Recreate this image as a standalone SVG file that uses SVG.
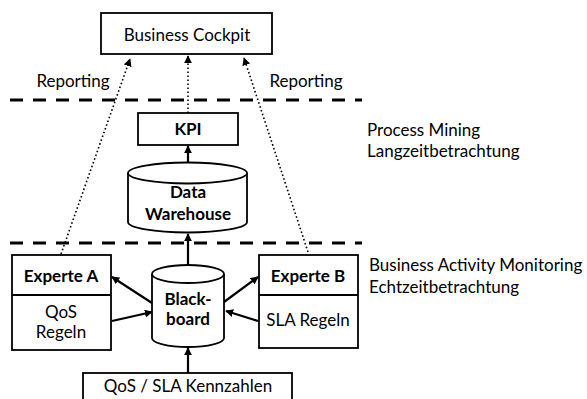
<svg xmlns="http://www.w3.org/2000/svg" width="587" height="399" viewBox="0 0 587 399">
  <style>
    .box { fill: #fff; stroke: #000; stroke-width: 1.8; }
    .t { font-family: Lato, "Open Sans", "Liberation Sans", sans-serif; font-size: 17px; fill: #000; text-anchor: middle; }
    .b { font-weight: bold; }
    .l { text-anchor: start; }
    .sep { stroke: #000; stroke-width: 3; stroke-dasharray: 13 10; fill: none; }
    .dot { stroke: #000; stroke-width: 1.6; stroke-dasharray: 1.6 2.4; fill: none; }
    .arr { stroke: #000; stroke-width: 2.2; fill: none; }
  </style>
  <defs>
    <marker id="ah" viewBox="0 0 10 10" refX="9" refY="5" markerWidth="3.6" markerHeight="3.6" orient="auto" markerUnits="strokeWidth">
      <path d="M0,0 L10,5 L0,10 z" fill="#000"/>
    </marker>
    <marker id="ahs" viewBox="0 0 10 10" refX="9" refY="5" markerWidth="5" markerHeight="5" orient="auto" markerUnits="strokeWidth">
      <path d="M0,0 L10,5 L0,10 z" fill="#000"/>
    </marker>
  </defs>

  <!-- layer separators -->
  <line class="sep" x1="10" y1="100" x2="362" y2="100"/>
  <line class="sep" x1="10" y1="243" x2="362" y2="243"/>

  <!-- layer descriptions -->
  <text class="t l" x="367" y="136">Process Mining</text>
  <text class="t l" x="367" y="157">Langzeitbetrachtung</text>
  <text class="t l" x="369" y="271">Business Activity Monitoring</text>
  <text class="t l" x="369" y="293">Echtzeitbetrachtung</text>
  <text class="t" x="73" y="87">Reporting</text>
  <text class="t" x="306" y="87">Reporting</text>

  <g id="cockpit">
    <rect class="box" x="101" y="13" width="171" height="41"/>
    <text class="t" x="187" y="41">Business Cockpit</text>
  </g>

  <g id="kpi">
    <rect class="box" x="138" y="113" width="100" height="32"/>
    <text class="t b" x="188" y="135">KPI</text>
  </g>

  <g id="warehouse">
    <path class="box" d="M128,173 A59.5,10.5 0 0 1 247,173 L247,222 A59.5,10.5 0 0 1 128,222 Z"/>
    <path class="box" d="M128,173 A59.5,10.5 0 0 0 247,173" fill="none"/>
    <text class="t b" x="188" y="198">Data</text>
    <text class="t b" x="188" y="220">Warehouse</text>
  </g>

  <g id="blackboard">
    <path class="box" d="M152,274 A36,9 0 0 1 224,274 L224,338 A36,9 0 0 1 152,338 Z"/>
    <path class="box" d="M152,274 A36,9 0 0 0 224,274" fill="none"/>
    <text class="t b" x="188" y="305">Black-</text>
    <text class="t b" x="188" y="325">board</text>
  </g>

  <g id="experteA">
    <rect class="box" x="12" y="255" width="99" height="95"/>
    <line class="box" x1="12" y1="295" x2="111" y2="295"/>
    <text class="t b" x="61" y="282">Experte A</text>
    <text class="t" x="61" y="318">QoS</text>
    <text class="t" x="61" y="338">Regeln</text>
  </g>

  <g id="experteB">
    <rect class="box" x="259" y="255" width="99" height="93"/>
    <line class="box" x1="259" y1="295" x2="358" y2="295"/>
    <text class="t b" x="308" y="282">Experte B</text>
    <text class="t" x="308" y="326">SLA Regeln</text>
  </g>

  <g id="kennzahlen">
    <rect class="box" x="83" y="373" width="209" height="40"/>
    <text class="t" x="188" y="392">QoS / SLA Kennzahlen</text>
  </g>

  <g id="connectors">
    <line class="dot" x1="61" y1="254" x2="130" y2="59" marker-end="url(#ahs)"/>
    <line class="dot" x1="188" y1="113" x2="188" y2="56" marker-end="url(#ahs)"/>
    <line class="dot" x1="308" y1="252" x2="244" y2="58" marker-end="url(#ahs)"/>
    <line class="arr" x1="188" y1="163" x2="188" y2="146" marker-end="url(#ah)"/>
    <line class="arr" x1="188" y1="265" x2="188" y2="234" marker-end="url(#ah)"/>
    <line class="arr" x1="152" y1="303" x2="112" y2="277" marker-end="url(#ah)"/>
    <line class="arr" x1="112" y1="321" x2="152" y2="312" marker-end="url(#ah)"/>
    <line class="arr" x1="224" y1="302" x2="258" y2="277" marker-end="url(#ah)"/>
    <line class="arr" x1="258" y1="321" x2="226" y2="311" marker-end="url(#ah)"/>
    <line class="arr" x1="188" y1="373" x2="188" y2="348" marker-end="url(#ah)"/>
  </g>
</svg>
